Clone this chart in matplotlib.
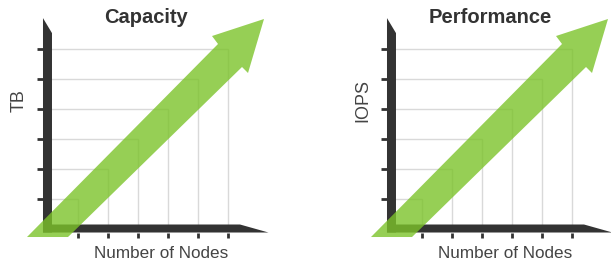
import matplotlib
matplotlib.use("Agg")
from matplotlib import pyplot as plt
from matplotlib.patches import Polygon, Rectangle

plt.rcParams['font.family'] = ['Liberation Sans', 'DejaVu Sans']

# chart data
titles = ["Capacity", "Performance"]
ylabels = ["TB", "IOPS"]
xlabel = "Number of Nodes"
nodes = [1, 2, 3, 4, 5, 6]
capacity = [1, 2, 3, 4, 5, 6]
performance = [1, 2, 3, 4, 5, 6]

dark = "#333333"
grid = "#d9d9d9"
green = "#7cc32a"

W, H = 611, 264
fig = plt.figure(figsize=(W / 100, H / 100), dpi=100)

# one unit = 30 px; origin of each panel in pixels (x from left, y from top)
unit = 30.0
panels = [(0, 305, 48, capacity), (305, 611, 392, performance)]


def draw_panel(ax, title, ylabel, values):
    # nested squares (bar outlines)
    for n, v in zip(nodes, values):
        ax.add_patch(Rectangle((0, 0), n, v, fill=False, edgecolor=grid,
                               lw=1, zorder=1, clip_on=False))
    # thick 3d-ish axes
    ax.add_patch(Polygon([(-0.167, -0.117), (-0.167, 7.03), (0.133, 6.53),
                          (0.133, -0.117)], closed=True, color=dark,
                         lw=0, zorder=2, clip_on=False))
    ax.add_patch(Polygon([(-0.167, 0.15), (6.4, 0.15), (7.35, -0.117),
                          (-0.167, -0.117)], closed=True, color=dark,
                         lw=0, zorder=2, clip_on=False))
    # ticks
    for v in values:
        ax.plot([-0.37, -0.167], [v, v], color=dark, lw=2, zorder=2,
                clip_on=False, solid_capstyle='butt')
    for n in nodes:
        ax.plot([n, n], [-0.117, -0.3], color=dark, lw=2, zorder=2,
                clip_on=False, solid_capstyle='butt')
    # big growth arrow
    arrow = [(-0.70, -0.267), (0.667, -0.267), (6.467, 5.4), (6.667, 5.2),
             (7.2, 7.0), (5.467, 6.433), (5.667, 6.167)]
    ax.add_patch(Polygon(arrow, closed=True, facecolor=green, alpha=0.8,
                         edgecolor='none', zorder=3, clip_on=False))
    ax.text(3.27, 6.87, title, ha='center', va='baseline', fontsize=14.5,
            fontweight='bold', color="#333333")
    ax.text(-0.967, 4.27, ylabel, ha='center', va='center', rotation=90,
            fontsize=13, color="#444444")
    ax.text(3.77, -0.833, xlabel, ha='center', va='center', fontsize=12.3,
            color="#444444")


for (px0, px1, ox, vals), title, ylab in zip(panels, titles, ylabels):
    ax = fig.add_axes([px0 / W, 0, (px1 - px0) / W, 1])
    ax.set_xlim((px0 - ox) / unit, (px1 - ox) / unit)
    ax.set_ylim((229 - H) / unit, 229 / unit)
    ax.axis('off')
    draw_panel(ax, title, ylab, vals)

fig.savefig("out.png", dpi=100)
